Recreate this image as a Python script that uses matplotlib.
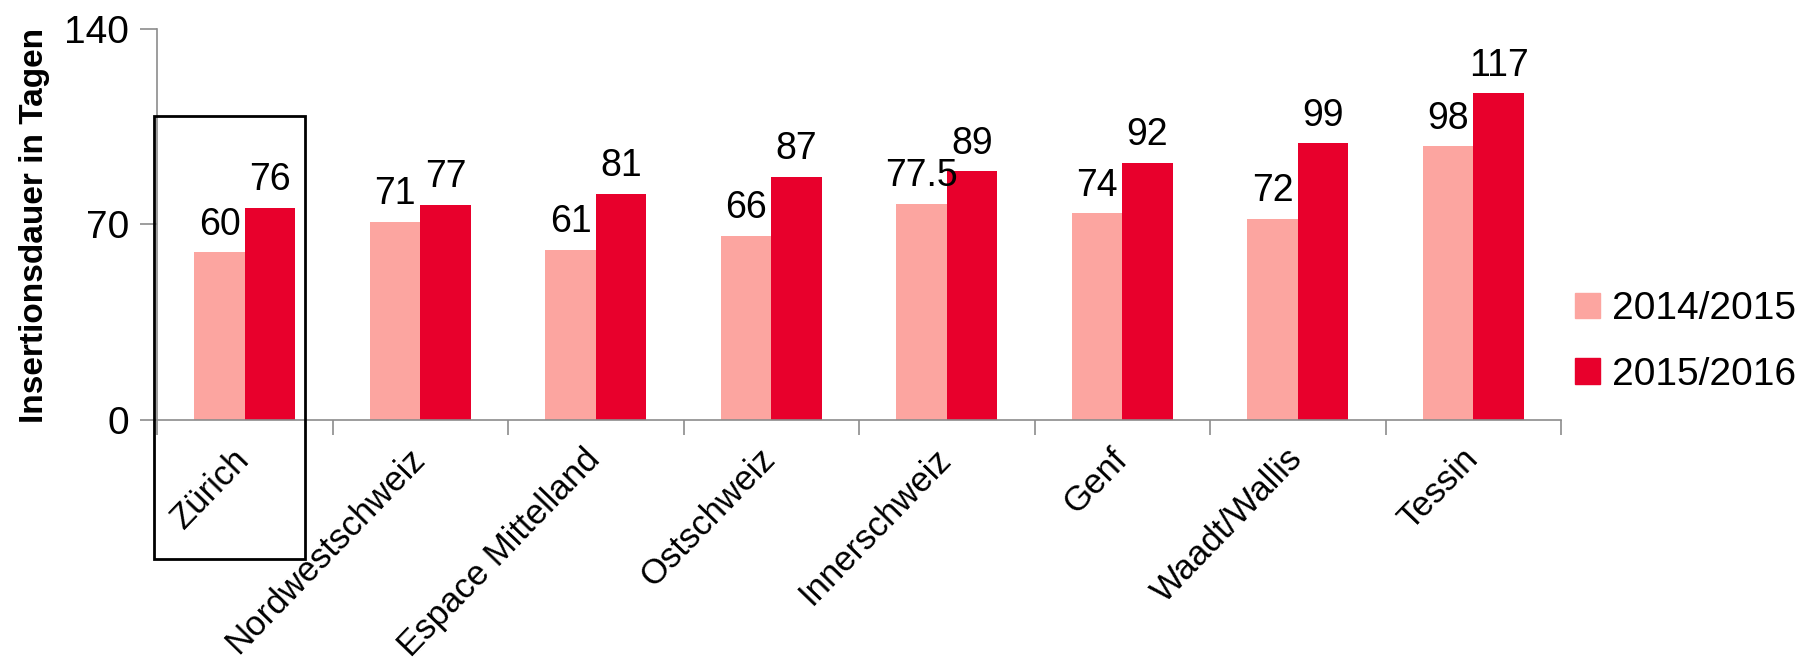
import matplotlib.pyplot as plt
import matplotlib.transforms as mtransforms
from matplotlib.patches import Rectangle, Patch
import numpy as np

plt.rcParams['font.family'] = ['Liberation Sans', 'DejaVu Sans']

regionen = ['Zürich', 'Nordwestschweiz', 'Espace Mittelland', 'Ostschweiz',
            'Innerschweiz', 'Genf', 'Waadt/Wallis', 'Tessin']
werte_1415 = [60, 71, 61, 66, 77.5, 74, 72, 98]
werte_1516 = [76, 77, 81, 87, 89, 92, 99, 117]
serien = ['2014/2015', '2015/2016']

col_pink = '#FCA5A0'
col_rot = '#E8002C'
col_axis = '#8C8C8C'

fig = plt.figure(figsize=(18.2, 6.68), dpi=100)
ax = fig.add_axes([0.0863, 0.3713, 0.7714, 0.5853])

x = np.arange(len(regionen)) + 0.5
w = 0.288
b1 = ax.bar(x - w / 2, werte_1415, w, color=col_pink, label=serien[0])
b2 = ax.bar(x + w / 2, werte_1516, w, color=col_rot, label=serien[1])

lab1 = ['77.5' if v == 77.5 else '%d' % v for v in werte_1415]
ax.bar_label(b1, labels=lab1, padding=7, fontsize=27)
ax.bar_label(b2, labels=['%d' % v for v in werte_1516], padding=7, fontsize=27)

ax.set_xlim(0, len(regionen))
ax.set_ylim(0, 140)
ax.set_yticks([0, 70, 140])
ax.tick_params(axis='y', length=12, width=1.2, color=col_axis, labelsize=28, pad=8)

# major ticks at category boundaries, labels at centers
ax.set_xticks(np.arange(len(regionen) + 1))
ax.set_xticklabels([])
ax.tick_params(axis='x', which='major', length=11, width=1.2, color=col_axis)
ax.set_xticks(x, minor=True)
ax.set_xticklabels(regionen, minor=True, rotation=46, ha='right', fontsize=25)
ax.tick_params(axis='x', which='minor', length=0, pad=16)
offset = mtransforms.ScaledTranslation(11 / 100, 0, fig.dpi_scale_trans)
for lbl in ax.get_xticklabels(minor=True):
    lbl.set_transform(lbl.get_transform() + offset)

for s in ['top', 'right']:
    ax.spines[s].set_visible(False)
for s in ['left', 'bottom']:
    ax.spines[s].set_color(col_axis)
    ax.spines[s].set_linewidth(1.2)

fig.text(0.0192, 0.662, 'Insertionsdauer in Tagen', rotation=90, ha='center',
         va='center', fontsize=24, fontweight='bold')

handles = [Patch(color=col_pink), Patch(color=col_rot)]
fig.legend(handles, serien, loc='center left', bbox_to_anchor=(1575 / 1820, 0.488),
           frameon=False, fontsize=28, handlelength=0.63, handleheight=0.63,
           handletextpad=0.32, labelspacing=0.75, borderpad=0, borderaxespad=0)

# box around Zürich
fig.patches.append(Rectangle((0.0846, 0.163), 0.083, 0.663, transform=fig.transFigure,
                             fill=False, edgecolor='black', linewidth=2))

fig.savefig('out.png', dpi=100)
